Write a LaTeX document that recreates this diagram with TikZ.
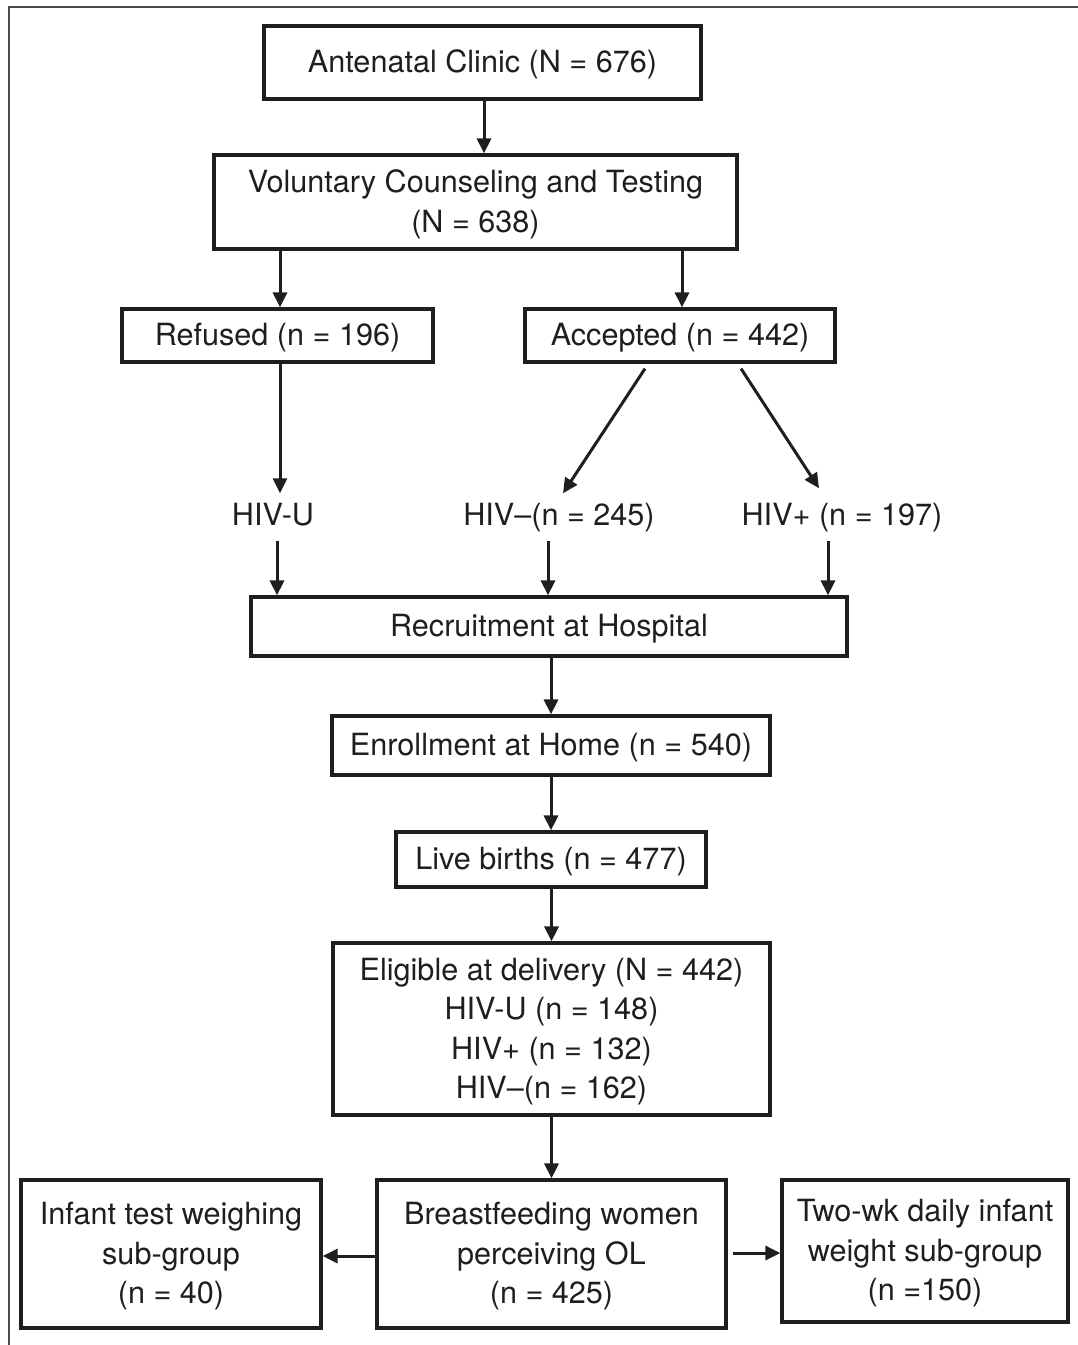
\documentclass[tikz,border=0pt]{standalone}
\usepackage{fontspec}
\setmainfont{TeX Gyre Heros}
\usetikzlibrary{arrows.meta}
\definecolor{ink}{HTML}{1e1e1e}
\newcommand\bt[1]{\raisebox{-2.5pt}[\height][\depth]{\begin{tabular}{@{}c@{}}#1\end{tabular}}}
\newcommand\lt[1]{\raisebox{-2pt}[\height][\depth]{#1}}
\begin{document}
\begin{tikzpicture}[x=1pt,y=-1pt,
  every node/.style={font=\fontsize{30.6}{39.5}\selectfont, text=ink},
  box/.style={draw=ink, line width=3.2pt, rectangle, inner sep=0pt, align=center},
  lbl/.style={inner sep=8pt, text height=22pt, text depth=7pt},
  arr/.style={draw=ink, line width=3pt, -{Triangle[length=15pt,width=14pt]}},
  frame/.style={draw=ink!80, line width=2.8pt}]
\useasboundingbox (0,0) rectangle (1078,1345);
% frame (partly cropped)
\coordinate (fa) at (9,1345);
\coordinate (fb) at (9,7);
\coordinate (fc) at (1078,7);
\draw[frame] (fa) -- (fb) -- (fc);
% boxes
\node[box, minimum width=437pt, minimum height=73pt] (ant) at (482.5,62.5) {\bt{Antenatal Clinic (N = 676)}};
\node[box, minimum width=523pt, minimum height=94pt] (vct) at (475.5,202) {\bt{Voluntary Counseling and Testing\\(N = 638)}};
\node[box, minimum width=311pt, minimum height=53pt] (ref) at (277.5,335.5) {\bt{Refused (n = 196)}};
\node[box, minimum width=310pt, minimum height=53pt] (acc) at (680,335.5) {\bt{Accepted (n = 442)}};
\node[lbl] (hivu) at (273,516) {\lt{HIV-U}};
\node[lbl] (hivn) at (559,516) {\lt{HIV–(n = 245)}};
\node[lbl] (hivp) at (842,516) {\lt{HIV+ (n = 197)}};
\node[box, minimum width=596pt, minimum height=59pt] (rec) at (549,626.5) {\bt{Recruitment at Hospital}};
\node[box, minimum width=438pt, minimum height=59pt] (enr) at (551,745.5) {\bt{Enrollment at Home (n = 540)}};
\node[box, minimum width=310pt, minimum height=55pt] (live) at (551,859.5) {\bt{Live births (n = 477)}};
\node[box, minimum width=437pt, minimum height=172pt] (elig) at (551.5,1029) {\bt{Eligible at delivery (N = 442)\\HIV-U (n = 148)\\HIV+ (n = 132)\\HIV–(n = 162)}};
\node[box, minimum width=300pt, minimum height=148pt] (itw) at (171,1254) {\bt{Infant test weighing\\sub-group\\(n = 40)}};
\node[box, minimum width=349pt, minimum height=148pt] (bf) at (551.5,1254) {\bt{Breastfeeding women\\perceiving OL\\(n = 425)}};
\node[box, minimum width=286pt, minimum height=142pt] (two) at (925,1251) {\bt{Two-wk daily infant\\weight sub-group\\(n =150)}};
% connectors
\draw[arr] ([xshift=1.5pt]ant.south) -- ([xshift=1.5pt]ant.south |- vct.north);
\draw[arr] ([xshift=2.5pt]vct.south -| ref.north) -- ([xshift=2.5pt]ref.north);
\draw[arr] ([xshift=2pt]vct.south -| acc.north) -- ([xshift=2pt]acc.north);
\draw[arr] ([xshift=2.5pt]ref.south) -- ([xshift=2.5pt]ref.south |- hivu.north);
\draw[arr] ([xshift=-35pt,yshift=-5pt]acc.south) -- ([xshift=4pt]hivn.north);
\draw[arr] ([xshift=61pt,yshift=-5pt]acc.south) -- ([xshift=-23pt,yshift=5pt]hivp.north);
\draw[arr] ([xshift=4pt,yshift=-2pt]hivu.south) -- ([xshift=4pt]hivu.south |- rec.north);
\draw[arr] ([xshift=-11pt,yshift=-2pt]hivn.south) -- ([xshift=-11pt]hivn.south |- rec.north);
\draw[arr] ([xshift=-14pt,yshift=-2pt]hivp.south) -- ([xshift=-14pt]hivp.south |- rec.north);
\draw[arr] (enr.north |- rec.south) -- (enr.north);
\draw[arr] (live.north |- enr.south) -- (live.north);
\draw[arr] (elig.north |- live.south) -- (elig.north);
\draw[arr] (bf.north |- elig.south) -- (bf.north);
\draw[arr] ([yshift=-2pt]bf.west) -- ([yshift=-2pt]bf.west -| itw.east);
\draw[arr] ([xshift=5pt,yshift=1pt]bf.east) -- ([yshift=1pt]bf.east -| two.west);
\end{tikzpicture}
\end{document}
